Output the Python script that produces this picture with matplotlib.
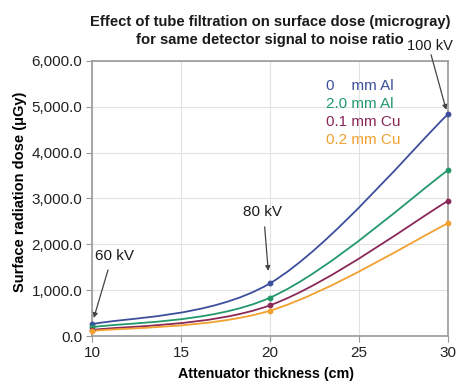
import matplotlib
matplotlib.use("Agg")
import matplotlib.pyplot as plt
from matplotlib.path import Path
from matplotlib.patches import PathPatch

plt.rcParams['font.family'] = ['Liberation Sans', 'DejaVu Sans']

thickness = [10, 20, 30]
series_names = ["0    mm Al", "2.0 mm Al", "0.1 mm Cu", "0.2 mm Cu"]
dose_0al = [255, 1150, 4840]
dose_2al = [190, 836, 3618]
dose_01cu = [130, 670, 2948]
dose_02cu = [110, 553, 2460]
colors = ["#3d4f9c", "#23996b", "#8a2858", "#f2a030"]
x_ticks = [10, 15, 20, 25, 30]
y_ticks = [0, 1000, 2000, 3000, 4000, 5000, 6000]
kv_labels = ["60 kV", "80 kV", "100 kV"]
title_lines = ["Effect of tube filtration on surface dose (microgray)",
               "for same detector signal to noise ratio"]

fig = plt.figure(figsize=(4.74, 3.92), dpi=100)
ax = fig.add_axes([92/474, 1-336/392, (448-92)/474, (336-61)/392])

def smooth_path(xs, ys):
    pts = list(zip(xs, ys))
    n = len(pts)
    verts = [pts[0]]
    codes = [Path.MOVETO]
    for i in range(n - 1):
        p0 = pts[i - 1] if i > 0 else pts[i]
        p1 = pts[i]
        p2 = pts[i + 1]
        p3 = pts[i + 2] if i + 2 < n else pts[i + 1]
        c1 = (p1[0] + (p2[0] - p0[0]) / 6, p1[1] + (p2[1] - p0[1]) / 6)
        c2 = (p2[0] - (p3[0] - p1[0]) / 6, p2[1] - (p3[1] - p1[1]) / 6)
        verts += [c1, c2, p2]
        codes += [Path.CURVE4] * 3
    return Path(verts, codes)

all_series = [dose_0al, dose_2al, dose_01cu, dose_02cu]
for ys, c in zip(all_series, colors):
    ax.add_patch(PathPatch(smooth_path(thickness, ys), fill=False, edgecolor=c, lw=1.3, zorder=3))
    ax.plot(thickness, ys, 'o', color=c, ms=3.2, zorder=4, clip_on=False)

ax.set_xlim(10, 30)
ax.set_ylim(0, 6000)
ax.set_xticks(x_ticks)
ax.set_yticks(y_ticks)
ax.set_xticklabels([str(t) for t in x_ticks], fontsize=11)
ax.set_yticklabels([f"{v:,.1f}" for v in y_ticks], fontsize=11)
ax.grid(True, color="#e2e2e2", lw=0.8)
ax.set_axisbelow(True)
for s in ax.spines.values():
    s.set_color("#999999")
    s.set_linewidth(1.2)
ax.tick_params(axis='both', direction='out', length=4, color="#999999", pad=3, labelcolor="#222222")

ax.set_xlabel("Attenuator thickness (cm)", fontsize=10.3, fontweight='bold')
ax.xaxis.set_label_coords((266.5-92)/356, -(367-336)/275)
ax.set_ylabel("Surface radiation dose (\u03bcGy)", fontsize=10.5, fontweight='bold')
ax.yaxis.set_label_coords(-(92-27)/356, (336-192)/275)

fig.text(270/474, 1-22/392, title_lines[0], ha='center', va='center', fontsize=10.6,
         fontweight='bold', color="#1a1a1a")
fig.text(270/474, 1-40/392, title_lines[1], ha='center', va='center', fontsize=10.6,
         fontweight='bold', color="#1a1a1a")

for i, (name, c) in enumerate(zip(series_names, colors)):
    ax.text(326/474, 1-(86 + 18*i)/392, name, transform=fig.transFigure, color=c, fontsize=11,
            ha='left', va='center')

arrowprops = dict(arrowstyle='-|>', color="#444444", lw=0.9, mutation_scale=7, shrinkA=0, shrinkB=0)
ax.annotate("", xy=(10.1, 393), xytext=(10.9, 1441), arrowprops=arrowprops, annotation_clip=False)
ax.text(11.25, 1747, kv_labels[0], ha='center', va='center', fontsize=11, color="#1a1a1a")
ax.annotate("", xy=(19.9, 1420), xytext=(19.7, 2380), arrowprops=arrowprops, annotation_clip=False)
ax.text(19.6, 2707, kv_labels[1], ha='center', va='center', fontsize=11, color="#1a1a1a")
ax.annotate("", xy=(29.9, 4934), xytext=(29.05, 6135), arrowprops=arrowprops, annotation_clip=False)
ax.text(29.0, 6320, kv_labels[2], ha='center', va='center', fontsize=10.5, color="#1a1a1a", clip_on=False)

fig.savefig("out.png", dpi=100)
